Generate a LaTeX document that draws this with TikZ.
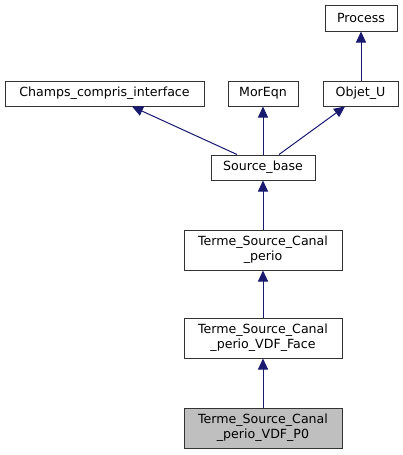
\documentclass[tikz,border=0pt]{standalone}
\usepackage{fontspec}
\setmainfont{DejaVu Sans}
\usetikzlibrary{arrows.meta}
\definecolor{edgeblue}{HTML}{191970}
\definecolor{fillgray}{HTML}{BFBFBF}
\begin{document}
\begin{tikzpicture}[x=1pt,y=-1pt,
  box/.style={draw=black!80, line width=1pt, fill=white, inner sep=0pt, align=center,
    font=\fontsize{12.6}{15}\selectfont},
  inh/.style={draw=edgeblue, line width=1pt, -{Triangle[length=11pt,width=10pt,fill=edgeblue]}}]
\useasboundingbox (0,0) rectangle (403,455);
\node[box, minimum width=72pt, minimum height=26pt] (proc) at (361,18) {Process};
\node[box, minimum width=199pt, minimum height=25pt] (champs) at (104.5,93.5) {Champs\_compris\_interface};
\node[box, minimum width=70pt, minimum height=25pt] (moreqn) at (263,93.5) {MorEqn};
\node[box, minimum width=75pt, minimum height=25pt] (objet) at (360.5,93.5) {Objet\_U};
\node[box, minimum width=104pt, minimum height=25pt] (src) at (263,167.5) {Source\_base};
\node[box, minimum width=158pt, minimum height=40pt] (tsc) at (263,250) {Terme\_Source\_Canal\\\_perio};
\node[box, minimum width=158pt, minimum height=40pt] (face) at (263,338) {Terme\_Source\_Canal\\\_perio\_VDF\_Face};
\node[box, fill=fillgray, minimum width=158pt, minimum height=40pt] (p0) at (263,428) {Terme\_Source\_Canal\\\_perio\_VDF\_P0};
\coordinate (srcL) at ([xshift=-26pt]src.north);
\coordinate (srcR) at ([xshift=16pt]src.north);
\coordinate (champsT) at ([xshift=27.5pt]champs.south);
\coordinate (objetT) at ([xshift=-15.5pt]objet.south);
\draw[inh] (objet.north -| proc) -- (proc.south);
\draw[inh] (srcL) -- (champsT);
\draw[inh] (src.north) -- (moreqn.south);
\draw[inh] (srcR) -- (objetT);
\draw[inh] (tsc.north) -- (src.south);
\draw[inh] (face.north) -- (tsc.south);
\draw[inh] (p0.north) -- (face.south);
\end{tikzpicture}
\end{document}
